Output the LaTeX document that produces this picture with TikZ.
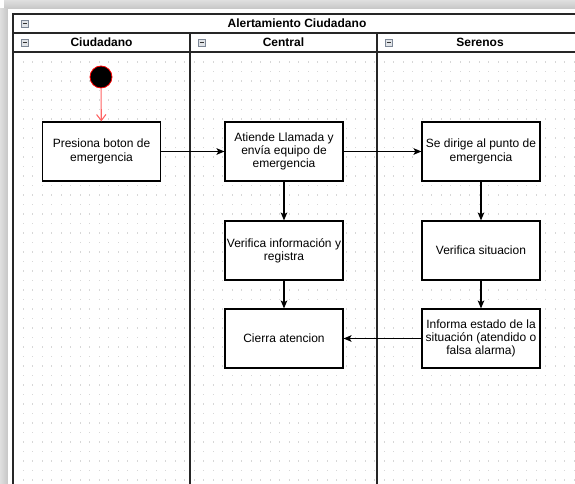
\documentclass[tikz,border=0pt]{standalone}
\usepackage{fontspec}
\setmainfont{Liberation Sans}
\usetikzlibrary{arrows.meta}
\definecolor{dotgray}{RGB}{215,215,215}
\definecolor{iconline}{RGB}{125,135,150}
\definecolor{iconfill}{RGB}{225,228,232}
\definecolor{startred}{RGB}{255,0,0}
\definecolor{flowred}{RGB}{255,100,100}
\begin{document}
\begin{tikzpicture}[x=0.75pt,y=-0.75pt,
  act/.style={draw=black, line width=0.9pt, fill=white, rectangle,
    minimum width=88.5pt, minimum height=44.25pt, inner sep=1pt,
    align=center, font=\fontsize{9}{10}\selectfont},
  lanehead/.style={font=\fontsize{9}{10}\selectfont\bfseries},
  flow/.style={line width=0.8pt, -{Stealth[length=6pt,width=5pt,inset=1.5pt]}},
  iconbox/.style={draw=iconline, fill=iconfill, line width=0.5pt, rectangle,
    minimum size=5.2pt, inner sep=0pt},
  lane/.style={line width=1pt, draw=black!85}]
  \useasboundingbox (0,0) rectangle (575,484);

  % window shadow along the top and left edges
  \fill[white] (0,0) rectangle (575,484);
  \shade[top color=gray!25, bottom color=gray!45] (4,0) rectangle (575,9);
  \shade[left color=gray!25, right color=gray!45] (0,9) rectangle (8,484);
  \fill[white] (8,9) rectangle (575,484);

  % dotted background grid
  \foreach \gx in {23,32.5,...,575} {
    \foreach \gy in {62,71.5,...,484} {
      \fill[dotgray] (\gx-0.5,\gy-0.5) rectangle +(1.1,1.1);
    }
  }

  % pool and lanes
  \draw[lane] (590,14) -- (13,14) -- (13,490);
  \draw[lane] (13,33) -- (590,33);
  \draw[lane] (13,52) -- (590,52);
  \draw[lane] (190,33) -- (190,490);
  \draw[lane] (377,33) -- (377,490);

  \node[lanehead] (pool) at (297,23.5) {Alertamiento Ciudadano};
  \node[lanehead] (laneA) at (101.5,42.5) {Ciudadano};
  \node[lanehead] (laneB) at (283.5,42.5) {Central};
  \node[lanehead] (laneC) at (480,42.5) {Serenos};

  % collapse icons
  \foreach \ix/\iy/\nm in {24.5/23.5/i0, 24.5/42.5/i1, 201.5/42.5/i2, 388.5/42.5/i3} {
    \node[iconbox] (\nm) at (\ix,\iy) {};
    \draw[black!80, line width=0.6pt] (\ix-2,\iy) -- (\ix+2,\iy);
  }

  % start node
  \node[circle, fill=black, draw=startred, line width=0.6pt,
        minimum size=16.5pt, inner sep=0pt] (start) at (101,77) {};

  % activities
  \node[act] (b1) at (101.5,151.5) {Presiona boton de\\emergencia};
  \node[act] (b2) at (284,151.5) {Atiende Llamada y\\envía equipo de\\emergencia};
  \node[act] (b3) at (481,151.5) {Se dirige al punto de\\emergencia};
  \node[act] (b4) at (284,250.5) {Verifica información y\\registra};
  \node[act] (b5) at (481,250.5) {Verifica situacion};
  \node[act] (b6) at (284,338.5) {Cierra atencion};
  \node[act] (b7) at (481,338.5) {Informa estado de la\\situación (atendido o\\falsa alarma)};

  % flows
  \draw[flowred, line width=0.8pt, -{Straight Barb[length=4.5pt,width=7pt]}] (start) -- (b1);
  \draw[flow] (b1) -- (b2);
  \draw[flow] (b2) -- (b3);
  \draw[flow] (b2) -- (b4);
  \draw[flow] (b4) -- (b6);
  \draw[flow] (b3) -- (b5);
  \draw[flow] (b5) -- (b7);
  \draw[flow] (b7) -- (b6);
\end{tikzpicture}
\end{document}
